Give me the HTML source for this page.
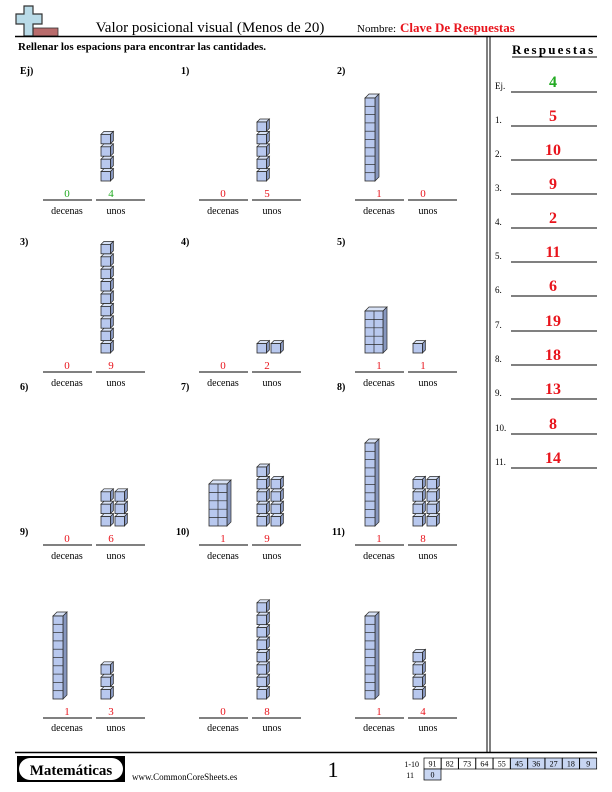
<!DOCTYPE html>
<html><head><meta charset="utf-8"><style>
html,body{margin:0;padding:0;background:#fff}
svg{display:block}
text{font-family:"Liberation Serif",serif}
</style></head><body>
<svg id="s" width="612" height="792" viewBox="0 0 612 792" xmlns="http://www.w3.org/2000/svg">
<!-- header icon -->
<rect x="32" y="28" width="26" height="8" fill="#b86b6b" stroke="#333" stroke-width="0.8"/>
<path d="M24 6 h9 v8 h9 v10 h-9 v12 h-9 v-12 h-8 v-10 h8 z" fill="#b9dbe8" stroke="#333" stroke-width="1.2"/>
<text x="210" y="32" font-size="15" text-anchor="middle">Valor posicional visual (Menos de 20)</text>
<text x="357" y="32" font-size="11">Nombre:</text>
<text x="400" y="32" font-size="13" font-weight="bold" fill="#e8141c">Clave De Respuestas</text>
<line x1="15" y1="36.5" x2="597" y2="36.5" stroke="#000" stroke-width="1.5"/>
<text x="18" y="50" font-size="11" font-weight="bold">Rellenar los espacions para encontrar las cantidades.</text>
<line x1="487" y1="37" x2="487" y2="752" stroke="#000" stroke-width="1"/>
<line x1="490" y1="37" x2="490" y2="752" stroke="#000" stroke-width="1"/>
<text x="512" y="54" font-size="13" font-weight="bold" letter-spacing="2.2">Respuestas</text>
<line x1="512" y1="57" x2="597" y2="57" stroke="#000" stroke-width="1"/>
<g font-size="9">
<text x="495" y="89">Ej.</text><text x="495" y="123">1.</text><text x="495" y="157">2.</text><text x="495" y="191">3.</text><text x="495" y="225">4.</text><text x="495" y="259">5.</text><text x="495" y="293">6.</text><text x="495" y="328">7.</text><text x="495" y="362">8.</text><text x="495" y="396">9.</text><text x="495" y="431">10.</text><text x="495" y="465">11.</text>
</g>
<g stroke="#000" stroke-width="1">
<line x1="511" y1="92" x2="597" y2="92"/><line x1="511" y1="126" x2="597" y2="126"/><line x1="511" y1="160" x2="597" y2="160"/><line x1="511" y1="194" x2="597" y2="194"/><line x1="511" y1="228" x2="597" y2="228"/><line x1="511" y1="262" x2="597" y2="262"/><line x1="511" y1="296" x2="597" y2="296"/><line x1="511" y1="331" x2="597" y2="331"/><line x1="511" y1="365" x2="597" y2="365"/><line x1="511" y1="399" x2="597" y2="399"/><line x1="511" y1="434" x2="597" y2="434"/><line x1="511" y1="468" x2="597" y2="468"/>
</g>
<g font-size="16" font-weight="bold" fill="#e8141c" text-anchor="middle">
<text x="553" y="87" fill="#22aa22">4</text><text x="553" y="121">5</text><text x="553" y="155">10</text><text x="553" y="189">9</text><text x="553" y="223">2</text><text x="553" y="257">11</text><text x="553" y="291">6</text><text x="553" y="326">19</text><text x="553" y="360">18</text><text x="553" y="394">13</text><text x="553" y="429">8</text><text x="553" y="463">14</text>
</g>
<!-- problem labels -->
<g font-size="10" font-weight="bold">
<text x="20" y="74">Ej)</text><text x="181" y="74">1)</text><text x="337" y="74">2)</text>
<text x="20" y="245">3)</text><text x="181" y="245">4)</text><text x="337" y="245">5)</text>
<text x="20" y="390">6)</text><text x="181" y="390">7)</text><text x="337" y="390">8)</text>
<text x="20" y="535">9)</text><text x="176" y="535">10)</text><text x="332" y="535">11)</text>
</g>
<g id="probs"></g>
<g font-size="11" text-anchor="middle" fill="#e8141c">
<text x="67" y="197" fill="#22aa22">0</text><text x="111" y="197" fill="#22aa22">4</text>
<text x="223" y="197">0</text><text x="267" y="197">5</text>
<text x="379" y="197">1</text><text x="423" y="197">0</text>
<text x="67" y="369">0</text><text x="111" y="369">9</text>
<text x="223" y="369">0</text><text x="267" y="369">2</text>
<text x="379" y="369">1</text><text x="423" y="369">1</text>
<text x="67" y="542">0</text><text x="111" y="542">6</text>
<text x="223" y="542">1</text><text x="267" y="542">9</text>
<text x="379" y="542">1</text><text x="423" y="542">8</text>
<text x="67" y="715">1</text><text x="111" y="715">3</text>
<text x="223" y="715">0</text><text x="267" y="715">8</text>
<text x="379" y="715">1</text><text x="423" y="715">4</text>
</g>
<g font-size="10" text-anchor="middle">
<text x="67" y="214">decenas</text><text x="116" y="214">unos</text>
<text x="223" y="214">decenas</text><text x="272" y="214">unos</text>
<text x="379" y="214">decenas</text><text x="428" y="214">unos</text>
<text x="67" y="386">decenas</text><text x="116" y="386">unos</text>
<text x="223" y="386">decenas</text><text x="272" y="386">unos</text>
<text x="379" y="386">decenas</text><text x="428" y="386">unos</text>
<text x="67" y="559">decenas</text><text x="116" y="559">unos</text>
<text x="223" y="559">decenas</text><text x="272" y="559">unos</text>
<text x="379" y="559">decenas</text><text x="428" y="559">unos</text>
<text x="67" y="731">decenas</text><text x="116" y="731">unos</text>
<text x="223" y="731">decenas</text><text x="272" y="731">unos</text>
<text x="379" y="731">decenas</text><text x="428" y="731">unos</text>
</g>
<!-- footer -->
<line x1="15" y1="752.5" x2="597" y2="752.5" stroke="#000" stroke-width="1.5"/>
<rect x="17" y="756" width="108" height="26" fill="#000"/>
<rect x="19" y="758" width="104" height="22" rx="11" fill="#fff"/>
<text x="71" y="775" font-size="15" font-weight="bold" text-anchor="middle">Matemáticas</text>
<text x="132" y="780" font-size="9">www.CommonCoreSheets.es</text>
<text x="333" y="777" font-size="22" text-anchor="middle">1</text>
<text x="419" y="767" font-size="8" text-anchor="end">1-10</text>
<text x="414" y="778" font-size="8" text-anchor="end">11</text>
<g id="score" font-size="8" text-anchor="middle"></g>
</svg>
<script>
var NS="http://www.w3.org/2000/svg",P=document.getElementById('probs');
function el(t,a,p){var e=document.createElementNS(NS,t);for(var k in a)e.setAttribute(k,a[k]);(p||P).appendChild(e);return e;}
var F="#b8c8ee",T="#d8e2f6",S="#8797bf",K="#2a2a2a";
function box(x,y,w,h,d,cols,rows){
 el('polygon',{points:[x,y,x+d,y-d,x+w+d,y-d,x+w,y].join(' '),fill:T,stroke:K,'stroke-width':0.7});
 el('polygon',{points:[x+w,y,x+w+d,y-d,x+w+d,y+h-d,x+w,y+h].join(' '),fill:S,stroke:K,'stroke-width':0.7});
 el('rect',{x:x,y:y,width:w,height:h,fill:F,stroke:K,'stroke-width':0.8});
 for(var i=1;i<rows;i++)el('line',{x1:x,y1:y+h*i/rows,x2:x+w,y2:y+h*i/rows,stroke:K,'stroke-width':0.7});
 for(var j=1;j<cols;j++)el('line',{x1:x+w*j/cols,y1:y,x2:x+w*j/cols,y2:y+h,stroke:K,'stroke-width':0.7});
}
var bases=[43,199,355],lines=[200,372,545,718];
var probs=[[0,0,0,[4]],[1,0,0,[5]],[2,0,1,[]],[0,1,0,[9]],[1,1,0,[1,1]],[2,1,2,[1]],
[0,2,0,[3,3]],[1,2,2,[5,4]],[2,2,1,[4,4]],[0,3,1,[3]],[1,3,0,[8]],[2,3,1,[4]]];
probs.forEach(function(p){
 var bx=bases[p[0]],ly=lines[p[1]],bot=ly-19;
 el('line',{x1:bx,y1:ly,x2:bx+49,y2:ly,stroke:'#000','stroke-width':1});
 el('line',{x1:bx+53,y1:ly,x2:bx+102,y2:ly,stroke:'#000','stroke-width':1});
 if(p[2]==1)box(bx+10,bot-83,10,83,4,1,10);
 if(p[2]==2)box(bx+10,bot-42,18,42,4,2,5);
 p[3].forEach(function(n,c){
  for(var i=0;i<n;i++){var x=bx+58+c*14,y=bot-9.4-i*12.4;box(x,y,9.4,9.4,3,1,1);}
 });
});
var sc=document.getElementById('score'),v=[91,82,73,64,55,45,36,27,18,9];
function cell(x,y,t,b){el('rect',{x:x,y:y,width:17,height:11,fill:b?'#c8d6f2':'#fff',stroke:'#000','stroke-width':0.7},sc);var e=el('text',{x:x+8.5,y:y+8.5},sc);e.textContent=t;}
v.forEach(function(t,i){cell(424+i*17.3,758,t,i>=5);});
cell(424,769,0,true);
</script>
</body></html>
